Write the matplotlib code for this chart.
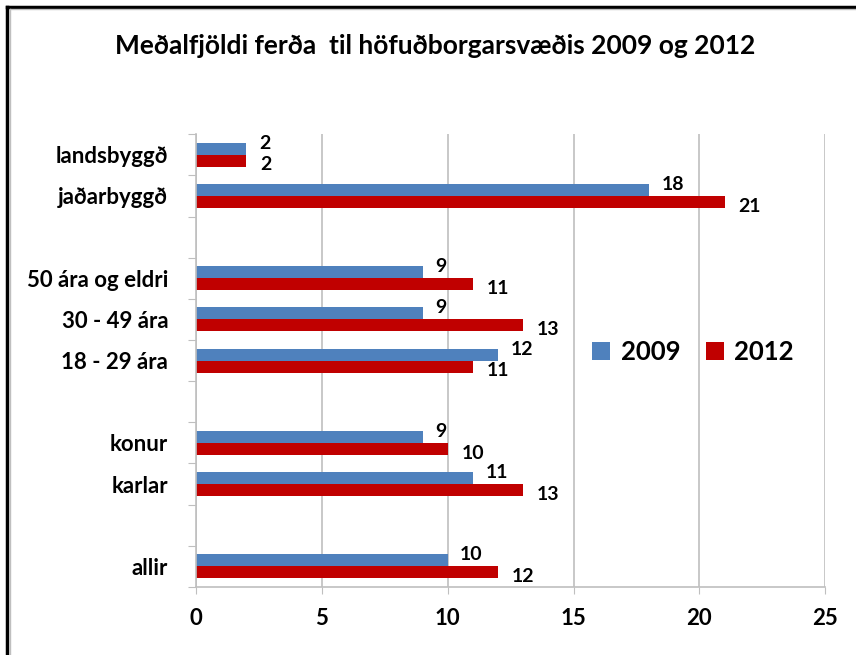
import numpy as np
import matplotlib.pyplot as plt
from matplotlib.lines import Line2D

# data (bottom to top, empty strings are gaps between groups)
categories = ["allir", "", "karlar", "konur", "", "18 - 29 ára", "30 - 49 ára",
              "50 ára og eldri", "", "jaðarbyggð", "landsbyggð"]
y2009 = [10, None, 11, 9, None, 12, 9, 9, None, 18, 2]
y2012 = [12, None, 13, 10, None, 11, 13, 11, None, 21, 2]

plt.rcParams['font.family'] = ['Lato', 'DejaVu Sans']

fig = plt.figure(figsize=(8.56, 6.55), dpi=100)
ax = fig.add_axes([0.229, 0.104, 0.735, 0.691])

pos = np.arange(len(categories))
h = 0.29
idx = [i for i, v in enumerate(y2009) if v is not None]
v09 = [y2009[i] for i in idx]
v12 = [y2012[i] for i in idx]

ax.barh(pos[idx] + h / 2, v09, height=h, color='#4F81BD', label='2009')
ax.barh(pos[idx] - h / 2, v12, height=h, color='#C00000', label='2012')

# value labels, blue ones nudged up, red ones nudged down
for p, v in zip(pos[idx], v09):
    ax.annotate(str(v), (v, p + h / 2), xytext=(9, 4), textcoords='offset points',
                ha='left', va='center', fontsize=14, fontweight='bold')
for p, v in zip(pos[idx], v12):
    ax.annotate(str(v), (v, p - h / 2), xytext=(10, -3), textcoords='offset points',
                ha='left', va='center', fontsize=14, fontweight='bold')

ax.set_xlim(0, 25)
ax.set_ylim(-0.5, len(categories) - 0.5)
ax.set_xticks([0, 5, 10, 15, 20, 25])
ax.tick_params(axis='x', labelsize=16, length=5, color='#BFBFBF', pad=10)
for t in ax.get_xticklabels():
    t.set_fontweight('bold')

# category labels in the middle, tick marks at the borders
ax.set_yticks(np.arange(len(categories) + 1) - 0.5)
ax.set_yticklabels([])
ax.set_yticks(pos, minor=True)
ax.set_yticklabels(categories, minor=True, fontsize=16, fontweight='bold')
ax.tick_params(axis='y', which='major', length=6, color='#BFBFBF')
ax.tick_params(axis='y', which='minor', length=0, pad=20)

ax.grid(axis='x', color='#BFBFBF', linewidth=1.2)
ax.set_axisbelow(True)
for s in ['top', 'right']:
    ax.spines[s].set_visible(False)
for s in ['left', 'bottom']:
    ax.spines[s].set_color('#BFBFBF')
    ax.spines[s].set_linewidth(1.2)

ax.legend(loc='center', bbox_to_anchor=(0.79, 0.52), ncol=2, frameon=False,
          prop={'size': 18.5, 'weight': 'bold'}, handlelength=0.7, handleheight=0.7,
          handletextpad=0.4, columnspacing=1.0)

fig.text(0.508, 0.93, "Meðalfjöldi ferða  til höfuðborgarsvæðis 2009 og 2012",
         ha='center', va='center', fontsize=19, fontweight='bold')

# frame lines on top and left
fig.add_artist(Line2D([0.0085, 1], [0.9895, 0.9895], color='black', lw=2.5, transform=fig.transFigure))
fig.add_artist(Line2D([0.0085, 0.0085], [0, 0.9895], color='black', lw=2.5, transform=fig.transFigure))
fig.add_artist(Line2D([0.012, 1], [0.986, 0.986], color='#BFBFBF', lw=1, transform=fig.transFigure))
fig.add_artist(Line2D([0.012, 0.012], [0, 0.986], color='#BFBFBF', lw=1, transform=fig.transFigure))

fig.savefig("out.png", dpi=100)
